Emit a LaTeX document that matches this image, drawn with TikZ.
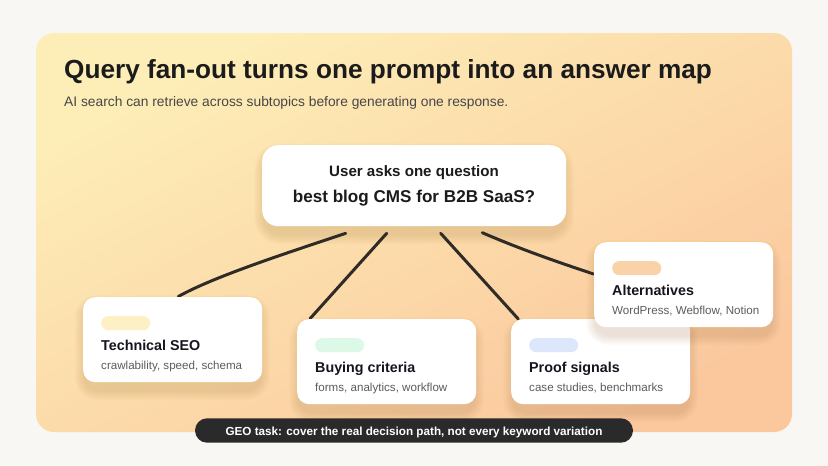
\documentclass[tikz,border=0pt]{standalone}
\usepackage{fontspec}
\setmainfont{Liberation Sans}
\usetikzlibrary{calc}
\definecolor{pagebg}{HTML}{F8F7F4}
\definecolor{panA}{HTML}{FDEEB7}
\definecolor{panB}{HTML}{FBC89E}
\definecolor{titleink}{HTML}{1B1B1B}
\definecolor{subink}{HTML}{474747}
\definecolor{cardink}{HTML}{15151F}
\definecolor{cardsub}{HTML}{5C5C5C}
\definecolor{linkc}{HTML}{2F2B27}
\definecolor{pillY}{HTML}{FCF0C4}
\definecolor{pillG}{HTML}{DCF8E6}
\definecolor{pillB}{HTML}{DCE7FB}
\definecolor{pillO}{HTML}{F9D2A7}
\definecolor{noteBg}{HTML}{2A2A2A}
\definecolor{shadowc}{HTML}{9A5A20}
% soft shadow: x1 y1 x2 y2 radius
\newcommand\boxshade[5]{%
  \foreach \k in {1,...,10}{%
    \fill[shadowc, fill opacity=0.015, rounded corners={(#5+\k)*1pt}]
      ({#1-\k+2},{#2-\k+8}) rectangle ({#3+\k-2},{#4+\k+8});
  }}
\begin{document}
\begin{tikzpicture}[x=1pt,y=-1pt,
  card/.style={fill=white, draw=none, rounded corners=12pt, minimum width=179pt, minimum height=85pt, inner sep=0pt, anchor=north west},
  qbox/.style={fill=white, draw=none, rounded corners=16pt, minimum width=304pt, minimum height=81pt, inner sep=0pt, anchor=north west},
  pill/.style={draw=none, anchor=north west, minimum width=49pt, minimum height=14pt, inner sep=0pt, rounded corners=7pt},
  cardtitle/.style={anchor=base west, inner sep=0pt, font=\fontsize{14.3}{17}\selectfont\bfseries, text=cardink},
  cardsubt/.style={anchor=base west, inner sep=0pt, font=\fontsize{11.6}{14}\selectfont, text=cardsub},
  link/.style={draw=linkc, line width=3pt, line cap=round},
  qtext/.style={anchor=base, inner sep=0pt, text=titleink}
]
\fill[pagebg] (0,0) rectangle (828,466);
\shade[rounded corners=18pt, top color=panA, bottom color=panB, shading angle=28] (36,33) rectangle (792,432);

\node[anchor=base west, inner sep=0pt, font=\fontsize{26.2}{30}\selectfont\bfseries, text=titleink] (title) at (64,78.5) {Query fan-out turns one prompt into an answer map};
\node[anchor=base west, inner sep=0pt, font=\fontsize{13.8}{16}\selectfont, text=subink] (subtitle) at (64,106) {AI search can retrieve across subtopics before generating one response.};

\boxshade{262}{145}{566}{226}{16}
\node[qbox] (q) at (262,145) {};
\node[qtext, font=\fontsize{15.1}{18}\selectfont\bfseries] (q1) at (414,176) {User asks one question};
\node[qtext, font=\fontsize{17.1}{20}\selectfont\bfseries] (q2) at (414,202) {best blog CMS for B2B SaaS?};

\coordinate (s1) at (345.7,233.3);
\coordinate (s2) at (386.7,233.3);
\coordinate (s3) at (440.7,233.3);
\coordinate (s4) at (482.3,232.7);
\coordinate (e1) at (178.3,296.5);
\coordinate (e2) at (310,318.7);
\coordinate (e3) at (518.3,319);
\coordinate (e4) at (593.5,274);

\draw[link] (s1) .. controls (290,252) and (215,276) .. (e1);
\draw[link] (s2) -- (e2);
\draw[link] (s3) -- (e3);
\draw[link] (s4) .. controls (520,249) and (556,261.5) .. (e4);

% Technical SEO
\boxshade{83}{297}{262}{382}{12}
\node[card] (tech) at (83,297) {};
\node[pill, fill=pillY] (techP) at ($(tech.north west)+(18,19)$) {};
\node[cardtitle] (techT) at ($(tech.north west)+(18,53)$) {Technical SEO};
\node[cardsubt] (techS) at ($(tech.north west)+(18,72)$) {crawlability, speed, schema};

% Buying criteria
\boxshade{297}{319}{476}{404}{12}
\node[card] (buy) at (297,319) {};
\node[pill, fill=pillG] (buyP) at ($(buy.north west)+(18,19)$) {};
\node[cardtitle] (buyT) at ($(buy.north west)+(18,53)$) {Buying criteria};
\node[cardsubt] (buyS) at ($(buy.north west)+(18,72)$) {forms, analytics, workflow};

% Proof signals
\boxshade{511}{319}{690}{404}{12}
\node[card] (proof) at (511,319) {};
\node[pill, fill=pillB] (proofP) at ($(proof.north west)+(18,19)$) {};
\node[cardtitle] (proofT) at ($(proof.north west)+(18,53)$) {Proof signals};
\node[cardsubt] (proofS) at ($(proof.north west)+(18,72)$) {case studies, benchmarks};

% Alternatives
\boxshade{594}{242}{773}{327}{12}
\node[card] (alt) at (594,242) {};
\node[pill, fill=pillO] (altP) at ($(alt.north west)+(18,19)$) {};
\node[cardtitle] (altT) at ($(alt.north west)+(18,53)$) {Alternatives};
\node[cardsubt] (altS) at ($(alt.north west)+(18,72)$) {WordPress, Webflow, Notion};

% Bottom note
\node[fill=noteBg, draw=none, rounded corners=12.2pt, minimum width=438pt, minimum height=24.4pt, inner sep=0pt] (note) at (414,430.5) {};
\node[anchor=base, inner sep=0pt, text=white, font=\fontsize{11.7}{14}\selectfont\bfseries] (noteT) at (414,435) {GEO task: cover the real decision path, not every keyword variation};
\end{tikzpicture}
\end{document}
